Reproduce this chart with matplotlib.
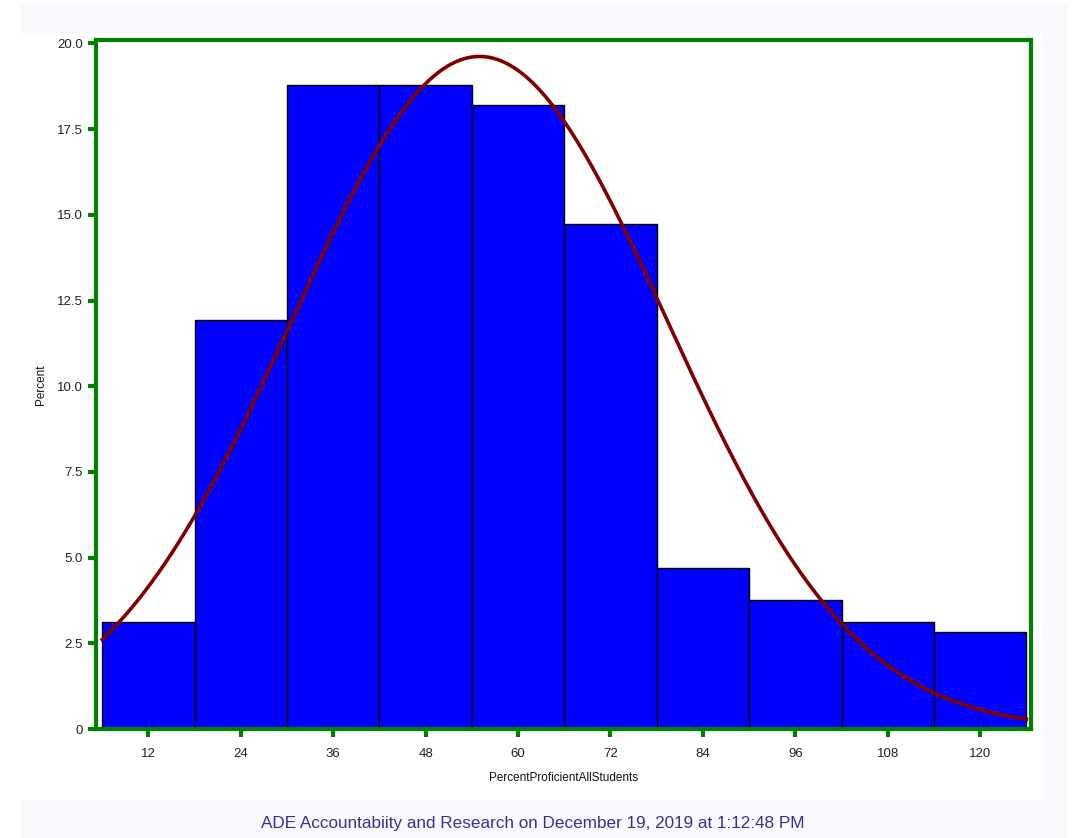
import numpy as np
import matplotlib.pyplot as plt
from matplotlib.patches import Rectangle

# histogram of PercentProficientAllStudents, bin width 12
BIN_MIDS = [12, 24, 36, 48, 60, 72, 84, 96, 108, 120]
PERCENTS = [3.12, 11.92, 18.8, 18.8, 18.19, 14.72, 4.69, 3.76, 3.12, 2.83]
BIN_WIDTH = 12
# fitted normal curve parameters
MU = 55.0
SIGMA = 24.4
Y_TICKS = [0, 2.5, 5.0, 7.5, 10.0, 12.5, 15.0, 17.5, 20.0]
Y_TICK_LABELS = ['0', '2.5', '5.0', '7.5', '10.0', '12.5', '15.0', '17.5', '20.0']
FOOTER = 'ADE Accountabiity and Research on December 19, 2019 at 1:12:48 PM'

GREEN = '#008000'
plt.rcParams['font.family'] = ['Liberation Sans', 'DejaVu Sans']

fig = plt.figure(figsize=(10.81, 8.38), dpi=100)
fig.patch.set_facecolor('white')
# light page panel and white graph area behind the axes
fig.patches.append(Rectangle((20/1081, 0), 1048/1081, 1 - 3/838, transform=fig.transFigure,
                             facecolor='#f8f9fe', edgecolor='none', zorder=-2))
fig.patches.append(Rectangle((20/1081, 1 - 800/838), 1023/1081, 767/838, transform=fig.transFigure,
                             facecolor='white', edgecolor='none', zorder=-1))

ax = fig.add_axes([96/1081, 1 - 729/838, 935/1081, 689/838])
ax.bar(BIN_MIDS, PERCENTS, width=BIN_WIDTH, color='#0000ff', edgecolor='black', linewidth=1.0, zorder=2)

xs = np.linspace(BIN_MIDS[0] - BIN_WIDTH/2, BIN_MIDS[-1] + BIN_WIDTH/2, 400)
ys = 100 * BIN_WIDTH / (SIGMA * np.sqrt(2 * np.pi)) * np.exp(-0.5 * ((xs - MU) / SIGMA) ** 2)
ax.plot(xs, ys, color='#800000', linewidth=2.6, zorder=3)

ax.set_xlim(5.2, 126.6)
ax.set_ylim(0, 20.1)
ax.set_xticks(BIN_MIDS)
ax.set_xticklabels([str(v) for v in BIN_MIDS])
ax.set_yticks(Y_TICKS)
ax.set_yticklabels(Y_TICK_LABELS)
ax.tick_params(axis='both', colors=GREEN, width=3, length=6, labelcolor='#222222', labelsize=9.5)
ax.tick_params(axis='x', pad=8)
for s in ax.spines.values():
    s.set_color(GREEN)
    s.set_linewidth(3)

ax.set_ylabel('Percent', fontsize=8.5, color='#111111', labelpad=7)
ax.set_xlabel('PercentProficientAllStudents', fontsize=8.5, color='#111111', labelpad=8)

fig.text(533/1081, 1 - 823/838, FOOTER, ha='center', va='center', fontsize=12.3, color='#33338f')

fig.savefig('out.png', dpi=100)
